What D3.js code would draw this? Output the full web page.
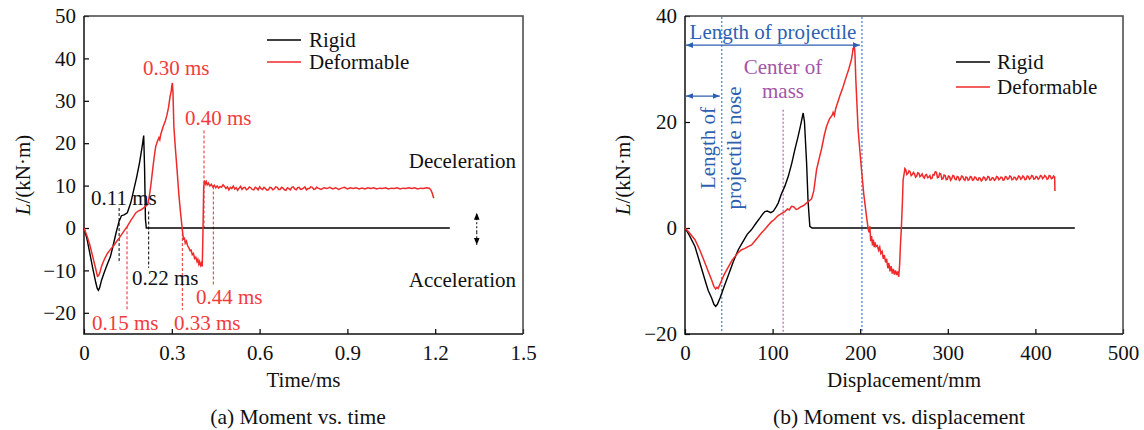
<!DOCTYPE html>
<html>
<head>
<meta charset="utf-8">
<script src="https://cdn.jsdelivr.net/npm/d3@7"></script>
<style>
  body { margin: 0; background: #fff; }
  svg text { font-family: "Liberation Serif", "Times New Roman", serif; }
</style>
</head>
<body>
<div id="chart"></div>
<script>
// tick values
var timeTicks = [0, 0.3, 0.6, 0.9, 1.2, 1.5];
var momentTicksA = [-20, -10, 0, 10, 20, 30, 40, 50];
var dispTicks = [0, 100, 200, 300, 400, 500];
var momentTicksB = [-20, 0, 20, 40];

var seriesNames = ["Rigid", "Deformable"];

// (a) moment vs time, [t ms, L kN·m]
var rigidTime = [
  [0, 0], [0.01, -2.5], [0.02, -6], [0.03, -9.5], [0.04, -12.8], [0.045, -14.2], [0.049, -14.7],
  [0.053, -14.2], [0.06, -12.3], [0.07, -10.3], [0.08, -8.5], [0.09, -6.8], [0.1, -4], [0.11, -1],
  [0.12, 1.6], [0.128, 2.9], [0.137, 3.1], [0.148, 3.6], [0.16, 6], [0.17, 9], [0.18, 12],
  [0.19, 15.5], [0.2, 19.8], [0.204, 21.8], [0.207, 14], [0.21, 2], [0.213, 0], [1.25, 0]
];
var deformTime = [
  [0, 0], [0.01, -1.8], [0.02, -4], [0.03, -6.8], [0.04, -9.6], [0.046, -11.4], [0.05, -11.2],
  [0.055, -10.3], [0.06, -9], [0.07, -7.3], [0.08, -6], [0.09, -5.1], [0.1, -4.3], [0.11, -3.3],
  [0.12, -2.4], [0.13, -1.4], [0.14, -0.4], [0.148, 0.4], [0.16, 1.8], [0.17, 2.8], [0.176, 3.5],
  [0.185, 4], [0.195, 4.3], [0.205, 4.8], [0.212, 5.2], [0.218, 5.6], [0.222, 7], [0.228, 9.8],
  [0.235, 14], [0.24, 16.8], [0.245, 19.2], [0.25, 20.3], [0.256, 21.3], [0.259, 20.8], [0.262, 22],
  [0.27, 23.8], [0.278, 25.3], [0.283, 26.5], [0.289, 28.5], [0.294, 31], [0.298, 32.2], [0.3, 33.5],
  [0.302, 34.2], [0.304, 32], [0.307, 24], [0.312, 19], [0.318, 13.7], [0.324, 8], [0.33, 3.5],
  [0.336, -0.4], [0.34, -2.8], [0.343, -2.2], [0.346, -3.6], [0.35, -3.1], [0.354, -4.2], [0.358, -4.6],
  [0.362, -5.3], [0.366, -5.2], [0.37, -6.3], [0.374, -6], [0.378, -7.2], [0.382, -6.9], [0.386, -7.9],
  [0.389, -7.4], [0.392, -8.5], [0.395, -7.9], [0.398, -8.8], [0.401, -8.3], [0.404, -9.1], [0.406, -3],
  [0.409, 9.8], [0.412, 11.2], [0.415, 10.4], [0.418, 10.9], [0.421, 10.2], [0.425, 10.6], [0.43, 9.9],
  [0.435, 10.3], [0.44, 9.7], [0.445, 10.1], [0.45, 9.5], [0.455, 9.9], [0.46, 9.4], [0.465, 9.8],
  [0.47, 9.6], [0.475, 10.2], [0.48, 9.8], [0.485, 9.3], [0.49, 9.7], [0.495, 9.0], [0.5, 9.6],
  [0.505, 9.3], [0.51, 9.9], [0.515, 9.2], [0.52, 9.5], [0.525, 8.9], [0.53, 9.4], [0.535, 9.8],
  [0.54, 9.1], [0.545, 9.5], [0.55, 9.6], [0.555, 9.0], [0.56, 9.2], [0.565, 9.7], [0.57, 9.5],
  [0.575, 9.1], [0.58, 9.0], [0.585, 9.6], [0.59, 9.4], [0.595, 9.0], [0.6, 9.7], [0.605, 9.3],
  [0.61, 9.1], [0.615, 9.6], [0.62, 9.3], [0.625, 8.9], [0.63, 9.0], [0.635, 9.6], [0.64, 9.5],
  [0.645, 9.0], [0.65, 9.2], [0.655, 9.7], [0.66, 9.6], [0.665, 9.1], [0.67, 9.1], [0.675, 9.6],
  [0.68, 9.4], [0.685, 9.0], [0.69, 8.9], [0.695, 9.5], [0.7, 9.3], [0.705, 9.0], [0.71, 9.6],
  [0.715, 9.7], [0.72, 9.2], [0.725, 9.0], [0.73, 9.5], [0.735, 9.6], [0.74, 9.1], [0.745, 9.2],
  [0.75, 9.4], [0.755, 9.7], [0.76, 9.0], [0.765, 9.3], [0.77, 9.3], [0.775, 9.7], [0.78, 9.6],
  [0.785, 9.1], [0.79, 9.2], [0.795, 9.6], [0.8, 9.4], [0.81, 9.1], [0.82, 9.5], [0.83, 9.3],
  [0.84, 9.6], [0.85, 9.2], [0.86, 9.5], [0.87, 9.1], [0.88, 9.4], [0.89, 9.6], [0.9, 9.2], [0.91, 9.5],
  [0.92, 9.3], [0.93, 9.5], [0.94, 9.2], [0.95, 9.4], [0.96, 9.2], [0.97, 9.5], [0.98, 9.3], [0.99, 9.5],
  [1.0, 9.2], [1.01, 9.4], [1.02, 9.3], [1.03, 9.5], [1.04, 9.2], [1.05, 9.4], [1.06, 9.3], [1.07, 9.5],
  [1.08, 9.2], [1.09, 9.4], [1.1, 9.3], [1.11, 9.5], [1.12, 9.3], [1.13, 9.5], [1.14, 9.2], [1.15, 9.4],
  [1.16, 9.3], [1.17, 9.5], [1.18, 9.4], [1.185, 9.0], [1.19, 8.2], [1.195, 7.0]
];

// (b) moment vs displacement, [mm, L kN·m]
var rigidDisp = [
  [0, 0], [5, -1.4], [11.4, -3.5], [17, -6.6], [22.8, -9.8], [26.5, -11.8], [30.4, -13.2], [33, -14.4],
  [35, -14.8], [37, -14.4], [40, -13.2], [45, -10.9], [50, -8.7], [55, -6.4], [60.8, -4.1], [66, -2.6],
  [71, -1.2], [76, -0.3], [81, 0.9], [86, 2.0], [89, 2.7], [91.2, 3.1], [94, 3.2], [98, 2.9], [101, 3.2],
  [104, 4.0], [106.4, 4.7], [110, 6.4], [114, 7.9], [118, 9.8], [122, 12.3], [125.4, 14.8], [129, 17.2],
  [132, 19.4], [134.9, 21.7], [136.4, 20], [138.8, 12.3], [140.5, 5], [142.5, 0.3], [145, 0], [445, 0]
];
var deformDisp = [
  [0, 0], [5, -0.9], [11.4, -2.2], [17, -4.2], [22.8, -6.6], [27, -8.4], [30.4, -9.8], [33, -11],
  [35, -11.5], [36.5, -11.2], [37.8, -11.4], [40, -10.6], [43, -9.4], [45.6, -8.5], [50, -7.2], [54, -6],
  [57, -5.4], [61, -4.6], [64.6, -4.1], [68, -3.9], [72, -3.5], [76, -3.2], [80, -2.4], [84, -1.6],
  [87.4, -0.9], [91, -0.3], [95, 0.5], [98.8, 1.2], [102, 1.6], [106, 2.3], [110, 2.7], [114, 3.1],
  [117, 3.6], [119, 3.4], [121.6, 4.1], [124, 4.0], [127, 3.5], [129, 3.6], [132, 4.0], [135, 4.2],
  [138.7, 4.7], [141, 5.0], [144.5, 5.5], [147, 7], [150.2, 11], [153, 13], [156, 15], [159, 17.5],
  [161.6, 19.2], [165, 20.6], [168, 21.3], [169.1, 21.8], [170.5, 21.2], [172, 22.5], [176.7, 24.9],
  [180, 26.4], [184.4, 28.7], [187, 30], [190, 31.8], [191.2, 33], [191.9, 34], [192.6, 33.6],
  [193.3, 34.4], [194, 33], [195, 28], [197.6, 18.6], [199.5, 14.8], [201.5, 11], [204, 6.5],
  [207.2, 2.2], [209, 0], [210, -0.8], [211, 0.3], [212, -2.5], [213, -1.5], [214, -3.3], [215, -2.2],
  [216, -3.6], [217, -2.7], [218, -3.5], [219.5, -3.3], [221, -4.2], [222.3, -3.6], [223.5, -4.8],
  [225, -4.4], [226.3, -5.8], [227.5, -5.1], [229, -6.5], [230.2, -5.8], [231.5, -7.6], [232.7, -6.6],
  [234, -8.2], [235.3, -7.2], [236.6, -8.6], [237.8, -7.7], [239, -8.8], [240.3, -8.0], [241.5, -8.9],
  [242.7, -8.2], [244, -9.2], [245, -7], [246, -3], [247, 0], [248.2, 5], [249, 9.1], [250.3, 10.4],
  [251, 11.2], [252, 11.0], [253.2, 10.1], [254.5, 10.3], [255.7, 10.8], [257, 10.6], [258.2, 9.9],
  [259.5, 10.1], [260.7, 10.5], [262, 10.2], [263.2, 9.6], [264.5, 9.8], [265.7, 10.4], [267, 10.3],
  [268.2, 9.7], [269.5, 9.9], [270.7, 10.2], [272, 9.6], [273.2, 9.4], [274.5, 10.0], [275.7, 10.1],
  [277, 9.5], [278.2, 9.6], [279.5, 9.9], [280.7, 9.3], [282, 9.4], [283.2, 10.1], [284.5, 10.0],
  [285.7, 10.6], [287, 10.5], [288.2, 9.5], [289.5, 9.6], [290.7, 10.3], [292, 10.2], [293.2, 9.2],
  [294.5, 9.3], [295.7, 10.0], [297, 9.9], [298.2, 9.1], [299.5, 9.2], [300.7, 9.8], [302, 9.7],
  [303.2, 9.0], [304.5, 9.3], [305.7, 9.9], [307, 9.8], [308.2, 9.2], [309.5, 9.1], [310.7, 9.7],
  [312, 9.6], [313.2, 9.0], [314.5, 9.2], [315.7, 9.8], [317, 9.7], [318.2, 9.2], [319.5, 9.0],
  [320.7, 9.6], [322, 9.5], [323.2, 9.0], [324.5, 9.2], [325.7, 9.7], [327, 9.6], [328.2, 9.0],
  [329.5, 9.1], [330.7, 9.6], [332, 9.5], [333.2, 9.1], [334.5, 9.0], [335.7, 9.5], [337, 9.4],
  [338.2, 8.9], [339.5, 9.1], [340.7, 9.6], [342, 9.5], [343.2, 9.0], [344.5, 9.2], [345.7, 9.7],
  [347, 9.6], [348.2, 9.0], [349.5, 9.1], [350.7, 9.5], [352, 9.4], [353.2, 9.0], [354.5, 9.2],
  [355.7, 9.7], [357, 9.6], [358.2, 9.1], [359.5, 9.3], [360.7, 9.6], [362, 9.5], [363.2, 9.0],
  [364.5, 9.1], [365.7, 9.7], [367, 9.6], [368.2, 9.2], [369.5, 9.3], [370.7, 9.8], [372, 9.7],
  [373.2, 9.1], [374.5, 9.2], [375.7, 9.6], [377, 9.5], [378.2, 9.1], [379.5, 9.3], [380.7, 9.8],
  [382, 9.7], [383.2, 9.2], [384.5, 9.4], [385.7, 9.8], [387, 9.6], [388.2, 9.1], [389.5, 9.2],
  [390.7, 9.8], [392, 9.7], [393.2, 9.2], [394.5, 9.4], [395.7, 9.9], [397, 9.8], [398.2, 9.2],
  [399.5, 9.3], [400.7, 9.7], [402, 9.6], [403.2, 9.2], [404.5, 9.4], [405.7, 9.9], [407, 9.8],
  [408.2, 9.3], [409.5, 9.5], [410.7, 9.9], [412, 9.7], [413.2, 9.2], [414.5, 9.3], [415.7, 9.9],
  [417, 9.8], [418.2, 9.3], [419.5, 9.4], [420.7, 9.8], [422, 9.6], [422.3, 7.0]
];

// annotations, (a)
var eventTimes = [0.12, 0.221, 0.147, 0.336, 0.41, 0.442];
var eventLabels = ["0.11 ms", "0.22 ms", "0.15 ms", "0.33 ms", "0.40 ms", "0.44 ms"];
var peakLabel = "0.30 ms";
// annotations, (b), mm
var noseLength = 42;
var projectileLength = 202;
var centerOfMass = 112;

var RED = "#ee2a2a", RED_TXT = "#f03c3c", BLUE = "#2f5fb0", BLUE_LINE = "#3a6fd0", PURPLE = "#a455a8";

var svg = d3.select("#chart").append("svg")
    .attr("width", 1144).attr("height", 430);

var defs = svg.append("defs");
function arrowMarker(id, color, orient) {
    defs.append("marker")
        .attr("id", id).attr("viewBox", "0 0 10 10")
        .attr("refX", 10).attr("refY", 5)
        .attr("markerWidth", 7).attr("markerHeight", 7)
        .attr("markerUnits", "userSpaceOnUse")
        .attr("orient", orient)
        .append("path").attr("d", "M0,1 L10,5 L0,9 Z").attr("fill", color);
}
arrowMarker("arrBlue", BLUE, "auto-start-reverse");
arrowMarker("arrBlack", "#000", "auto-start-reverse");

// panel builder
function panel(cfg) {
    var x = d3.scaleLinear().domain(cfg.xDomain).range([cfg.left, cfg.right]);
    var y = d3.scaleLinear().domain(cfg.yDomain).range([cfg.bottom, cfg.top]);
    var g = svg.append("g");

    g.append("g")
        .attr("transform", "translate(0," + cfg.bottom + ")")
        .call(d3.axisBottom(x).tickValues(cfg.xTicks).tickSize(-5).tickPadding(11)
            .tickFormat(function (d) { return d; }))
        .call(function (a) {
            a.select(".domain").remove();
            a.selectAll("line").attr("stroke", "#000").attr("stroke-width", 1.2);
            a.selectAll("text").attr("font-size", 21).attr("fill", "#111")
                .attr("font-family", "Liberation Serif").attr("dy", "0.71em");
        });

    g.append("g")
        .attr("transform", "translate(" + cfg.left + ",0)")
        .call(d3.axisLeft(y).tickValues(cfg.yTicks).tickSize(-5).tickPadding(8)
            .tickFormat(function (d) { return d < 0 ? "\u2212" + Math.abs(d) : d; }))
        .call(function (a) {
            a.select(".domain").remove();
            a.selectAll("line").attr("stroke", "#000").attr("stroke-width", 1.2);
            a.selectAll("text").attr("font-size", 21).attr("fill", "#111")
                .attr("font-family", "Liberation Serif");
        });

    // frame
    g.append("path")
        .attr("d", "M" + cfg.left + "," + cfg.top + "H" + cfg.right + "V" + cfg.bottom)
        .attr("fill", "none").attr("stroke", "#444").attr("stroke-width", 1.5);
    g.append("path")
        .attr("d", "M" + cfg.left + "," + cfg.top + "V" + cfg.bottom + "H" + cfg.right)
        .attr("fill", "none").attr("stroke", "#111").attr("stroke-width", 1.5);

    // axis titles
    var yl = g.append("text")
        .attr("transform", "translate(" + cfg.yLabelX + "," + ((cfg.top + cfg.bottom) / 2) + ") rotate(-90)")
        .attr("text-anchor", "middle").attr("font-size", 21).attr("fill", "#111");
    yl.append("tspan").attr("font-style", "italic").text("L");
    yl.append("tspan").text("/(kN\u00b7m)");

    g.append("text")
        .attr("x", (cfg.left + cfg.right) / 2).attr("y", 387)
        .attr("text-anchor", "middle").attr("font-size", 21).attr("fill", "#111")
        .text(cfg.xLabel);
    g.append("text")
        .attr("x", cfg.captionX).attr("y", 424)
        .attr("text-anchor", "middle").attr("font-size", 21.5).attr("fill", "#111")
        .text(cfg.caption);

    return { g: g, x: x, y: y };
}

var line = function (p) {
    return d3.line().x(function (d) { return p.x(d[0]); }).y(function (d) { return p.y(d[1]); });
};

/////////// (a) Moment vs. time ///////////
var pa = panel({
    left: 84, right: 523, top: 16, bottom: 334,
    xDomain: [0, 1.5], yDomain: [-25, 50],
    xTicks: timeTicks, yTicks: momentTicksA,
    yLabelX: 30, xLabel: "Time/ms", caption: "(a) Moment vs. time", captionX: 298
});

// dashed event lines
var eventSpan = [[4.7, -8.3], [3.9, -9.4], [0.4, -19.3], [0, -19.3], [23, 0], [9.8, -13.4]];
var eventColor = ["#000", "#000", RED, RED, RED, RED];
eventTimes.forEach(function (t, i) {
    pa.g.append("line")
        .attr("x1", pa.x(t)).attr("x2", pa.x(t))
        .attr("y1", pa.y(eventSpan[i][0])).attr("y2", pa.y(eventSpan[i][1]))
        .attr("stroke", eventColor[i]).attr("stroke-width", 1)
        .attr("stroke-dasharray", "3,2");
});

pa.g.append("path").datum(rigidTime)
    .attr("d", line(pa)).attr("fill", "none").attr("stroke", "#000").attr("stroke-width", 1.4);
pa.g.append("path").datum(deformTime)
    .attr("d", line(pa)).attr("fill", "none").attr("stroke", RED).attr("stroke-width", 1.5);

// event labels
var labelPos = [[91, 205], [132, 285], [92, 330], [174, 330], [185, 125], [196, 304]];
eventLabels.forEach(function (s, i) {
    pa.g.append("text").attr("x", labelPos[i][0]).attr("y", labelPos[i][1])
        .attr("font-size", 21).attr("fill", eventColor[i] === "#000" ? "#111" : RED_TXT)
        .text(s);
});
pa.g.append("text").attr("x", 143).attr("y", 75)
    .attr("font-size", 21).attr("fill", RED_TXT).text(peakLabel);

pa.g.append("text").attr("x", 516).attr("y", 168).attr("text-anchor", "end")
    .attr("font-size", 21).attr("fill", "#111").text("Deceleration");
pa.g.append("text").attr("x", 516).attr("y", 287).attr("text-anchor", "end")
    .attr("font-size", 21).attr("fill", "#111").text("Acceleration");
pa.g.append("line")
    .attr("x1", pa.x(1.342)).attr("x2", pa.x(1.342))
    .attr("y1", pa.y(-1)).attr("y2", pa.y(3.6))
    .attr("stroke", "#000").attr("stroke-width", 1).attr("stroke-dasharray", "2,2")
    .attr("marker-end", "url(#arrBlack)");
pa.g.append("line")
    .attr("x1", pa.x(1.342)).attr("x2", pa.x(1.342))
    .attr("y1", pa.y(-1)).attr("y2", pa.y(-4))
    .attr("stroke", "#000").attr("stroke-width", 1).attr("stroke-dasharray", "2,2")
    .attr("marker-end", "url(#arrBlack)");

// legend (a)
var legA = pa.g.append("g").attr("transform", "translate(267,40)");
seriesNames.forEach(function (s, i) {
    legA.append("line").attr("x1", 0).attr("x2", 34).attr("y1", i * 22).attr("y2", i * 22)
        .attr("stroke", i ? RED : "#000").attr("stroke-width", 1.3);
    legA.append("text").attr("x", 42).attr("y", i * 22 + 7)
        .attr("font-size", 21).attr("fill", "#111").text(s);
});

/////////// (b) Moment vs. displacement ///////////
var pb = panel({
    left: 685, right: 1123, top: 16, bottom: 334,
    xDomain: [0, 500], yDomain: [-20, 40],
    xTicks: dispTicks, yTicks: momentTicksB,
    yLabelX: 630, xLabel: "Displacement/mm", caption: "(b) Moment vs. displacement", captionX: 899
});

[noseLength, projectileLength].forEach(function (v) {
    pb.g.append("line")
        .attr("x1", pb.x(v)).attr("x2", pb.x(v))
        .attr("y1", 17).attr("y2", 333)
        .attr("stroke", BLUE_LINE).attr("stroke-width", 1.1).attr("stroke-dasharray", "2,2");
});
pb.g.append("line")
    .attr("x1", pb.x(centerOfMass)).attr("x2", pb.x(centerOfMass))
    .attr("y1", pb.y(22.3)).attr("y2", 333)
    .attr("stroke", PURPLE).attr("stroke-width", 1.1).attr("stroke-dasharray", "2,2");

pb.g.append("path").datum(rigidDisp)
    .attr("d", line(pb)).attr("fill", "none").attr("stroke", "#000").attr("stroke-width", 1.4);
pb.g.append("path").datum(deformDisp)
    .attr("d", line(pb)).attr("fill", "none").attr("stroke", RED).attr("stroke-width", 1.5);

// length arrows
pb.g.append("line")
    .attr("x1", pb.x(0) + 1).attr("x2", pb.x(projectileLength) - 2)
    .attr("y1", pb.y(34.5)).attr("y2", pb.y(34.5))
    .attr("stroke", BLUE).attr("stroke-width", 1.2)
    .attr("marker-start", "url(#arrBlue)").attr("marker-end", "url(#arrBlue)");
pb.g.append("line")
    .attr("x1", pb.x(0) + 1).attr("x2", pb.x(noseLength) - 2)
    .attr("y1", pb.y(24.9)).attr("y2", pb.y(24.9))
    .attr("stroke", BLUE).attr("stroke-width", 1.2)
    .attr("marker-start", "url(#arrBlue)").attr("marker-end", "url(#arrBlue)");

pb.g.append("text").attr("x", 773).attr("y", 39).attr("text-anchor", "middle")
    .attr("font-size", 21).attr("fill", BLUE).text("Length of projectile");
pb.g.append("text").attr("transform", "translate(715,148) rotate(-90)").attr("text-anchor", "middle")
    .attr("font-size", 21).attr("fill", BLUE).text("Length of");
pb.g.append("text").attr("transform", "translate(741,148) rotate(-90)").attr("text-anchor", "middle")
    .attr("font-size", 21).attr("fill", BLUE).text("projectile nose");
pb.g.append("text").attr("x", 783).attr("y", 74).attr("text-anchor", "middle")
    .attr("font-size", 21).attr("fill", PURPLE).text("Center of");
pb.g.append("text").attr("x", 783).attr("y", 98).attr("text-anchor", "middle")
    .attr("font-size", 21).attr("fill", PURPLE).text("mass");

// legend (b)
var legB = pb.g.append("g").attr("transform", "translate(956,62)");
seriesNames.forEach(function (s, i) {
    legB.append("line").attr("x1", 0).attr("x2", 34).attr("y1", i * 25).attr("y2", i * 25)
        .attr("stroke", i ? RED : "#000").attr("stroke-width", 1.3);
    legB.append("text").attr("x", 41).attr("y", i * 25 + 7)
        .attr("font-size", 21).attr("fill", "#111").text(s);
});
</script>
</body>
</html>
